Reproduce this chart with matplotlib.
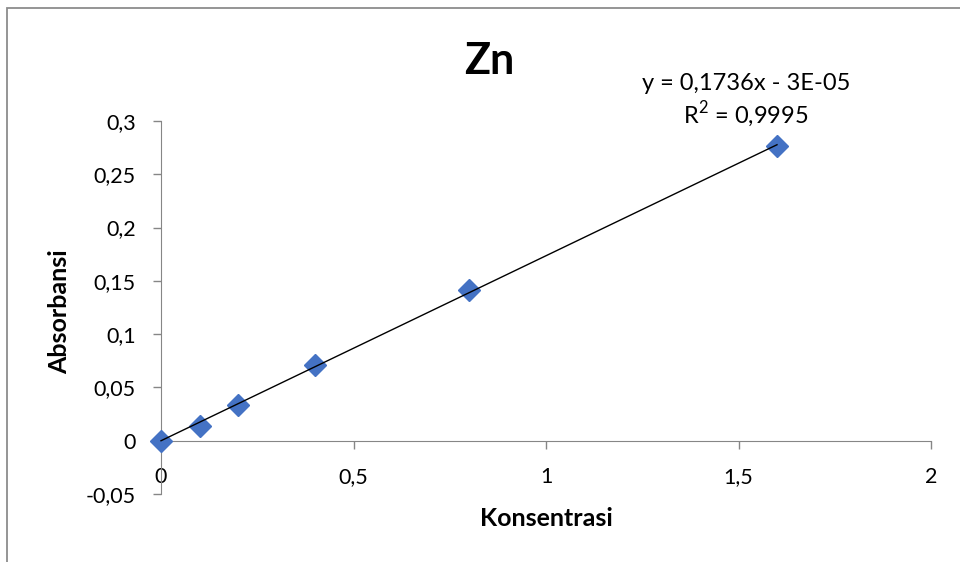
import matplotlib
matplotlib.use("Agg")
import matplotlib.pyplot as plt
from matplotlib.patches import Rectangle
from matplotlib.ticker import FixedLocator, FuncFormatter
import numpy as np

# Calibration data for Zn
konsentrasi = [0, 0.1, 0.2, 0.4, 0.8, 1.6]
absorbansi = [0.0, 0.0135, 0.0337, 0.0713, 0.1416, 0.2766]

# Linear trendline parameters
slope = 0.1736
intercept = -3e-05
r_squared = 0.9995

x_ticks = [0, 0.5, 1, 1.5, 2]
y_ticks = [-0.05, 0, 0.05, 0.1, 0.15, 0.2, 0.25, 0.3]

plt.rcParams['font.family'] = ['Lato', 'DejaVu Sans']

W, H = 960, 562
fig = plt.figure(figsize=(W / 100, H / 100), dpi=100)
fig.patch.set_facecolor('white')

# chart-area border
fig.add_artist(Rectangle((7 / W, -0.1), 1.2, 1 - 8 / H + 0.1, transform=fig.transFigure,
                         fill=False, edgecolor='#8c8c8c', linewidth=1.3))

ax = fig.add_axes([161 / W, 1 - 494 / H, 770 / W, (494 - 121) / H])
ax.set_xlim(0, 2)
ax.set_ylim(-0.05, 0.3)

axis_color = '#868686'
for s in ('top', 'right'):
    ax.spines[s].set_visible(False)
ax.spines['bottom'].set_position(('data', 0))
ax.spines['bottom'].set_color(axis_color)
ax.spines['left'].set_color(axis_color)

def comma(v, pos=None):
    return ('%g' % v).replace('.', ',')

ax.xaxis.set_major_locator(FixedLocator(x_ticks))
ax.yaxis.set_major_locator(FixedLocator(y_ticks))
ax.xaxis.set_major_formatter(FuncFormatter(comma))
ax.yaxis.set_major_formatter(FuncFormatter(comma))
ax.tick_params(axis='both', direction='out', length=6, width=1, color=axis_color,
               labelsize=15.5, labelcolor='black')
ax.tick_params(axis='x', pad=13)
ax.tick_params(axis='y', pad=12)

# data points
ax.plot(konsentrasi, absorbansi, linestyle='none', marker='D', markersize=11,
        color='#4472C4', markeredgecolor='#4472C4', clip_on=False, zorder=3)

# trendline
xf = np.array([min(konsentrasi), max(konsentrasi)])
ax.plot(xf, slope * xf + intercept, color='black', linewidth=1.0, zorder=4, clip_on=False)

fig.text(489 / W, 1 - 61 / H, 'Zn', ha='center', va='center', fontsize=31, fontweight='bold')
eq = 'y = ' + comma(slope) + 'x - 3E-05'
fig.text(746 / W, 1 - 83 / H, eq, ha='center', va='center', fontsize=17)
fig.text(746 / W, 1 - 115 / H, r'R$^{\mathregular{2}}$ = ' + comma(r_squared),
         ha='center', va='center', fontsize=17)

fig.text(546 / W, 1 - 519 / H, 'Konsentrasi', ha='center', va='center', fontsize=18,
         fontweight='bold')
fig.text(60 / W, 1 - 312 / H, 'Absorbansi', ha='center', va='center', fontsize=18,
         fontweight='bold', rotation=90)

fig.savefig('out.png', dpi=100)
